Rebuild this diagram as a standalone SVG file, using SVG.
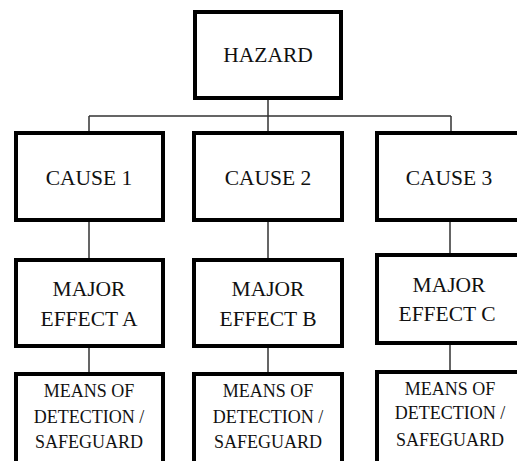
<svg xmlns="http://www.w3.org/2000/svg" width="517" height="461" viewBox="0 0 517 461">
<style>
.box{fill:#fff;stroke:#000;stroke-width:4}
.t{font-family:'Liberation Serif','Times New Roman','DejaVu Serif',serif;font-size:21.5px;fill:#111;text-anchor:middle}
.s{font-family:'Liberation Serif','Times New Roman','DejaVu Serif',serif;font-size:18px;fill:#111;text-anchor:middle}
.c{stroke:#333;stroke-width:1.5;fill:none}
</style>
<rect width="517" height="461" fill="#fff"/>
<g id="connectors">
<path class="c" d="M268 100V116M89 116H451M89 116V131M268 116V131M451 116V131"/>
<path class="c" d="M89 222V258M268 222V258M450 222V253"/>
<path class="c" d="M89 348V372M268 348V372M450 345V370"/>
</g>
<g id="hazard"><rect class="box" x="195" y="12" width="146" height="86"/><text class="t" x="268" y="62">HAZARD</text></g>
<g id="cause1"><rect class="box" x="16" y="133" width="147" height="87"/><text class="t" x="89" y="185">CAUSE 1</text></g>
<g id="cause2"><rect class="box" x="194" y="133" width="148" height="87"/><text class="t" x="268" y="185">CAUSE 2</text></g>
<g id="cause3"><rect class="box" x="377" y="133" width="146" height="87"/><text class="t" x="449" y="185">CAUSE 3</text></g>
<g id="effectA"><rect class="box" x="16" y="260" width="147" height="86"/><text class="t" x="89" y="296">MAJOR</text><text class="t" x="89" y="326">EFFECT A</text></g>
<g id="effectB"><rect class="box" x="194" y="260" width="148" height="86"/><text class="t" x="268" y="296">MAJOR</text><text class="t" x="268" y="326">EFFECT B</text></g>
<g id="effectC"><rect class="box" x="377" y="255" width="146" height="88"/><text class="t" x="449" y="292">MAJOR</text><text class="t" x="447" y="321">EFFECT C</text></g>
<g id="meansA"><rect class="box" x="16" y="374" width="147" height="100"/><text class="s" x="89" y="397">MEANS OF</text><text class="s" x="89" y="423">DETECTION /</text><text class="s" x="89" y="448">SAFEGUARD</text></g>
<g id="meansB"><rect class="box" x="194" y="374" width="148" height="100"/><text class="s" x="268" y="397">MEANS OF</text><text class="s" x="268" y="423">DETECTION /</text><text class="s" x="268" y="448">SAFEGUARD</text></g>
<g id="meansC"><rect class="box" x="377" y="372" width="146" height="100"/><text class="s" x="450" y="395">MEANS OF</text><text class="s" x="450" y="419">DETECTION /</text><text class="s" x="450" y="446">SAFEGUARD</text></g>
</svg>
